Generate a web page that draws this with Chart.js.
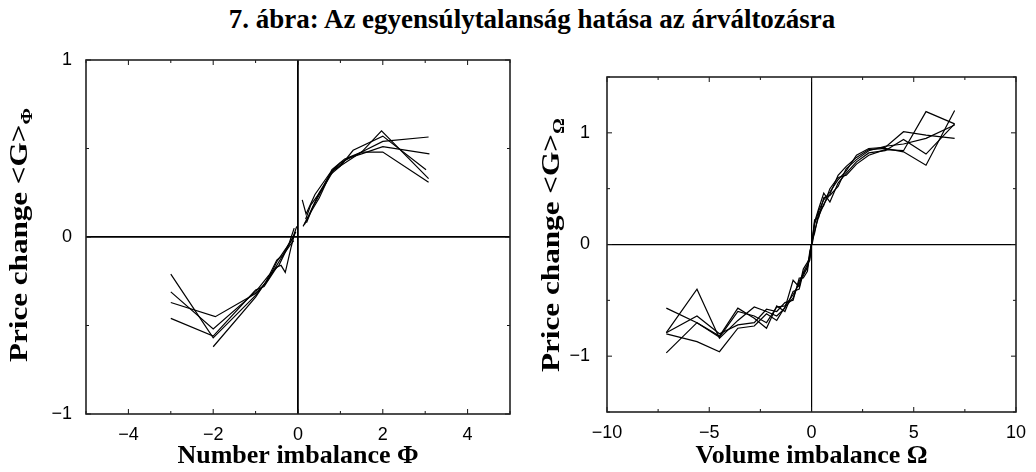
<!DOCTYPE html>
<html><head><meta charset="utf-8">
<script src="https://cdn.jsdelivr.net/npm/chart.js@4.4.1/dist/chart.umd.min.js"></script>
<style>
html,body{margin:0;padding:0;background:#fff;}
#wrap{position:relative;width:1036px;height:472px;overflow:hidden;background:#fff;}
#title{position:absolute;left:0;top:4px;width:1064px;text-align:center;font:bold 27px/30px "Liberation Serif","Times New Roman",serif;color:#000;white-space:nowrap;}
canvas{position:absolute;top:0;}
</style></head><body>
<div id="wrap">
<div id="title"></div>
<canvas id="c1" width="520" height="472" style="left:0"></canvas>
<canvas id="c2" width="516" height="472" style="left:520px"></canvas>
</div>
<script>
// ---- Left panel: number imbalance Φ ----
const phiNegX = [
  [-3.0, -2.0, -1.0, -0.7, -0.5, -0.3, -0.15, -0.05],
  [-3.0, -2.0, -1.0, -0.7, -0.45, -0.25, -0.1, -0.03],
  [-3.0, -1.95, -1.0, -0.8, -0.6, -0.4, -0.2, -0.1],
  [-3.0, -2.0, -1.0, -0.8, -0.5, -0.4, -0.3, -0.16, -0.08],
  [-2.0, -1.0, -0.75, -0.5, -0.35, -0.2, -0.09]
];
const phiNegY = [
  [-0.21, -0.57, -0.33, -0.24, -0.14, -0.07, -0.02, 0.03],
  [-0.31, -0.52, -0.31, -0.22, -0.16, -0.06, 0.01, 0.06],
  [-0.37, -0.45, -0.32, -0.27, -0.20, -0.12, -0.05, -0.02],
  [-0.46, -0.56, -0.30, -0.28, -0.17, -0.16, -0.20, -0.055, 0.02],
  [-0.62, -0.34, -0.25, -0.13, -0.10, -0.03, 0.05]
];
const phiPosX = [
  [0.1, 0.19, 0.4, 0.75, 1.0, 1.5, 1.97, 3.08],
  [0.15, 0.3, 0.5, 0.75, 1.0, 1.3, 2.0, 3.02],
  [0.12, 0.25, 0.5, 0.8, 1.05, 1.5, 2.0, 3.08],
  [0.2, 0.35, 0.55, 0.8, 1.1, 1.5, 2.0, 3.1],
  [0.18, 0.3, 0.6, 0.85, 1.2, 1.5, 2.0, 3.08]
];
const phiPosY = [
  [0.21, 0.13, 0.24, 0.36, 0.42, 0.48, 0.60, 0.33],
  [0.07, 0.14, 0.22, 0.35, 0.40, 0.49, 0.57, 0.38],
  [0.06, 0.12, 0.25, 0.37, 0.41, 0.48, 0.54, 0.565],
  [0.08, 0.17, 0.26, 0.38, 0.44, 0.47, 0.51, 0.47],
  [0.10, 0.18, 0.28, 0.38, 0.45, 0.48, 0.48, 0.31]
];
// ---- Right panel: volume imbalance Ω ----
const omegaNegX = [-7.1, -5.6, -4.5, -3.6, -2.8, -2.2, -1.7, -1.3, -0.9, -0.6, -0.4, -0.2, -0.08, -0.01];
const omegaNegY = [
  [-0.57, -0.70, -0.83, -0.60, -0.64, -0.70, -0.56, -0.55, -0.45, -0.35, -0.28, -0.20, -0.10, 0.00],
  [-0.79, -0.40, -0.84, -0.68, -0.56, -0.60, -0.64, -0.57, -0.32, -0.38, -0.22, -0.16, -0.12, -0.02],
  [-0.79, -0.64, -0.80, -0.72, -0.70, -0.58, -0.60, -0.52, -0.50, -0.30, -0.30, -0.24, -0.08, 0.00],
  [-0.97, -0.70, -0.82, -0.57, -0.66, -0.75, -0.55, -0.60, -0.42, -0.40, -0.25, -0.18, -0.14, 0.00],
  [-0.80, -0.87, -0.96, -0.75, -0.73, -0.62, -0.68, -0.56, -0.48, -0.33, -0.26, -0.21, -0.06, -0.01]
];
const omegaPosX = [0.03, 0.15, 0.35, 0.6, 0.9, 1.3, 1.7, 2.2, 2.8, 3.6, 4.5, 5.6, 7.0];
const omegaPosY = [
  [0.02, 0.18, 0.30, 0.40, 0.47, 0.58, 0.66, 0.80, 0.86, 0.87, 1.01, 0.98, 0.95],
  [0.00, 0.12, 0.25, 0.36, 0.45, 0.62, 0.70, 0.78, 0.85, 0.86, 0.83, 0.71, 1.20],
  [0.03, 0.20, 0.32, 0.46, 0.38, 0.55, 0.64, 0.74, 0.82, 0.84, 0.94, 0.81, 1.08],
  [0.05, 0.10, 0.28, 0.35, 0.50, 0.60, 0.62, 0.72, 0.80, 0.85, 0.84, 1.19, 1.08],
  [0.01, 0.22, 0.24, 0.42, 0.44, 0.52, 0.68, 0.76, 0.84, 0.88, 0.90, 0.95, 1.07]
];
// tick labels and texts
const phiXLabels = {'-4': '\u22124', '-2': '\u22122', '0': '0', '2': '2', '4': '4'};
const phiYLabels = {'-1': '\u22121', '0': '0', '1': '1'};
const omegaXLabels = {'-10': '\u221210', '-5': '\u22125', '0': '0', '5': '5', '10': '10'};
const omegaYLabels = {'-1': '\u22121', '0': '0', '1': '1'};
const titleText = '7. ábra: Az egyensúlytalanság hatása az árváltozásra';
const phiXTitle = 'Number imbalance \u03A6';
const omegaXTitle = 'Volume imbalance \u03A9';
const yTitleMain = 'Price change <G>';
const phiSub = '\u03A6';
const omegaSub = '\u03A9';

document.getElementById('title').textContent = titleText;

const pts = (xs, ys) => xs.map((x, i) => ({x: x, y: ys[i]}));
function makeSets(xsNeg, ysNeg, xsPos, ysPos, shared) {
  const sets = [];
  for (let i = 0; i < ysNeg.length; i++) {
    sets.push({data: pts(shared ? xsNeg : xsNeg[i], ysNeg[i])});
    sets.push({data: pts(shared ? xsPos : xsPos[i], ysPos[i])});
  }
  return sets.map(s => Object.assign(s, {showLine: true, borderColor: '#000', borderWidth: 1.2,
    pointRadius: 0, pointHoverRadius: 0, fill: false, tension: 0}));
}

const framePlugin = {
  id: 'frameTicks',
  afterDraw(chart, args, o) {
    const ctx = chart.ctx, a = chart.chartArea, xs = chart.scales.x, ys = chart.scales.y;
    ctx.save();
    ctx.strokeStyle = '#111';
    ctx.lineWidth = 1;
    o.xTicks.forEach(t => {
      const p = xs.getPixelForValue(t.v), L = t.major ? 5 : 3;
      ctx.beginPath();
      ctx.moveTo(p, a.bottom); ctx.lineTo(p, a.bottom - L);
      ctx.moveTo(p, a.top); ctx.lineTo(p, a.top + L);
      ctx.stroke();
    });
    o.yTicks.forEach(t => {
      const p = ys.getPixelForValue(t.v), L = t.major ? 5 : 3;
      ctx.beginPath();
      ctx.moveTo(a.left, p); ctx.lineTo(a.left + L, p);
      ctx.moveTo(a.right, p); ctx.lineTo(a.right - L, p);
      ctx.stroke();
    });
    ctx.lineWidth = 1.6;
    ctx.strokeStyle = '#222';
    ctx.strokeRect(a.left, a.top, a.right - a.left, a.bottom - a.top);
    // rotated y title with subscript, stretched along the text to the reference length
    const mainFont = 'bold 25px "Liberation Serif", serif';
    const subFont = 'bold 16px "Liberation Serif", serif';
    ctx.font = mainFont;
    const w1 = ctx.measureText(o.yMain).width;
    ctx.font = subFont;
    const w2 = ctx.measureText(o.ySub).width;
    const total = w1 + w2;
    const k = o.yTitleLen / total;
    ctx.translate(o.yTitleX, o.yTitleCY);
    ctx.rotate(-Math.PI / 2);
    ctx.scale(k, 1);
    ctx.fillStyle = '#000';
    ctx.textBaseline = 'middle';
    ctx.textAlign = 'left';
    ctx.font = mainFont;
    ctx.fillText(o.yMain, -total / 2, 0);
    ctx.font = subFont;
    ctx.fillText(o.ySub, -total / 2 + w1, 7);
    ctx.restore();
  }
};

function zeroGrid(ctx) { return ctx.tick && ctx.tick.value === 0 ? '#000' : 'rgba(0,0,0,0)'; }

function makeChart(id, sets, cfg) {
  return new Chart(document.getElementById(id), {
    type: 'scatter',
    data: {datasets: sets},
    plugins: [framePlugin],
    options: {
      responsive: false,
      animation: false,
      events: [],
      layout: {padding: {top: cfg.padTop, right: cfg.padRight, left: 0, bottom: 0}},
      plugins: {
        legend: {display: false},
        tooltip: {enabled: false},
        frameTicks: {xTicks: cfg.xTicks, yTicks: cfg.yTicks, yMain: yTitleMain, ySub: cfg.ySub,
          yTitleX: cfg.yTitleX, yTitleCY: cfg.yTitleCY, yTitleLen: 254}
      },
      scales: {
        x: {
          type: 'linear', min: cfg.xMin, max: cfg.xMax,
          afterFit: s => { s.height = cfg.xAxisH; },
          afterBuildTicks: s => { s.ticks = cfg.xTicks.map(t => ({value: t.v})); },
          ticks: {autoSkip: false, maxRotation: 0, padding: 10, color: '#000',
            font: {family: '"Liberation Sans", Arial, sans-serif', size: 18},
            callback: v => cfg.xLabels[String(v)] || ''},
          grid: {drawTicks: false, color: zeroGrid, lineWidth: cfg.zeroW},
          border: {display: false},
          title: {display: true, text: cfg.xTitle, color: '#000',
            font: {family: '"Liberation Serif", serif', size: 26, weight: 'bold'},
            padding: {top: 0, bottom: 0}}
        },
        y: {
          type: 'linear', min: cfg.yMin, max: cfg.yMax,
          afterFit: s => { s.width = cfg.yAxisW; },
          afterBuildTicks: s => { s.ticks = cfg.yTicks.map(t => ({value: t.v})); },
          ticks: {autoSkip: false, padding: cfg.yPad, color: '#000',
            font: {family: '"Liberation Sans", Arial, sans-serif', size: 18},
            callback: v => cfg.yLabels[String(v)] || ''},
          grid: {drawTicks: false, color: zeroGrid, lineWidth: cfg.zeroW},
          border: {display: false}
        }
      }
    }
  });
}

const phiXT = [-5,-4,-3,-2,-1,0,1,2,3,4,5].map(v => ({v: v, major: v % 2 === 0}));
const phiYT = [-1,-0.5,0,0.5,1].map(v => ({v: v, major: Number.isInteger(v)}));
const omXT = [-10,-7.5,-5,-2.5,0,2.5,5,7.5,10].map(v => ({v: v, major: Number.isInteger(v)}));
const omYT = [-1.5,-1,-0.5,0,0.5,1,1.5].map(v => ({v: v, major: Number.isInteger(v)}));

makeChart('c1', makeSets(phiNegX, phiNegY, phiPosX, phiPosY, false), {
  xMin: -5, xMax: 5, yMin: -1, yMax: 1, padTop: 60, padRight: 6, xAxisH: 58, yAxisW: 86, yPad: 14,
  xTicks: phiXT, yTicks: phiYT, xLabels: phiXLabels, yLabels: phiYLabels,
  xTitle: phiXTitle, ySub: phiSub, yTitleX: 21, yTitleCY: 235, zeroW: 1.8
});
makeChart('c2', makeSets(omegaNegX, omegaNegY, omegaPosX, omegaPosY, true), {
  xMin: -10, xMax: 10, yMin: -1.5, yMax: 1.5, padTop: 77, padRight: 14, xAxisH: 60, yAxisW: 87, yPad: 17,
  xTicks: omXT, yTicks: omYT, xLabels: omegaXLabels, yLabels: omegaYLabels,
  xTitle: omegaXTitle, ySub: omegaSub, yTitleX: 33, yTitleCY: 245, zeroW: 1.2
});
</script>
</body></html>
